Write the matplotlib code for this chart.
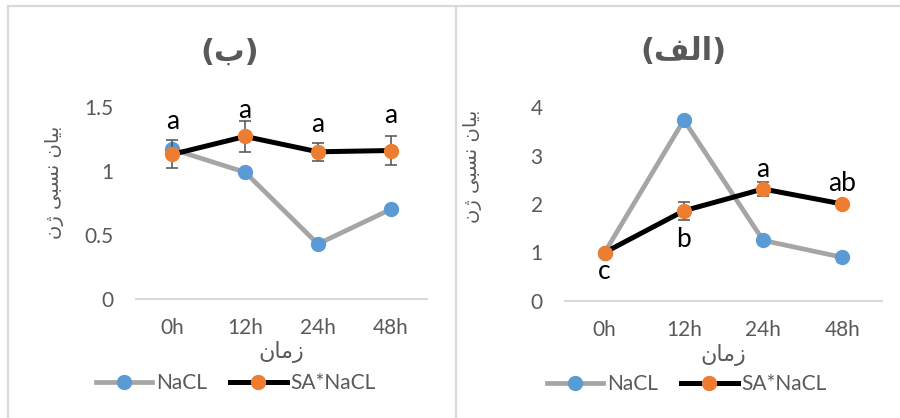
import matplotlib
matplotlib.use("Agg")
import matplotlib.pyplot as plt
from matplotlib.lines import Line2D

# ==========================================
# DATA
# ==========================================
times = ["0h", "12h", "24h", "48h"]

# panel (b) - left
nacl_b = [1.17, 0.99, 0.43, 0.70]
sa_b = [1.13, 1.27, 1.15, 1.16]
sa_b_err = [0.11, 0.12, 0.07, 0.11]
letters_b = ["a", "a", "a", "a"]

# panel (alef) - right
nacl_a = [1.0, 3.73, 1.25, 0.90]
sa_a = [1.0, 1.86, 2.31, 2.0]
sa_a_err = [0.0, 0.19, 0.15, 0.0]
letters_a = ["c", "b", "a", "ab"]

# Persian text, written in shaped presentation forms (visual order)
title_b = "(\uFE8F)"                      # (ب)
title_a = "(\uFED2\uFEDF\uFE8D)"          # (الف)
ylab = "\uFEE5\u0698 \uFEF0\uFE92\uFEB4\uFEE7 \uFEE5\uFE8E\uFEF4\uFE91"  # بیان نسبی ژن
xlab = "\uFEE5\uFE8E\uFEE3\uFEAF"         # زمان

BLUE = "#5B9BD5"
ORANGE = "#ED7D31"
GRAY = "#A5A5A5"
TXT = "#595959"
FRAME = "#D9D9D9"

plt.rcParams["font.family"] = ["Lato", "DejaVu Sans"]

fig = plt.figure(figsize=(9, 4.18), dpi=100)

# outer frame lines of the two excel charts
def fig_line(x0, y0, x1, y1):
    fig.add_artist(Line2D([x0 / 900, x1 / 900], [1 - y0 / 418, 1 - y1 / 418],
                          color=FRAME, lw=1.6, transform=fig.transFigure))

fig_line(8, 6, 900, 6)
fig_line(8, 6, 8, 418)
fig_line(456, 6, 456, 418)


def draw_panel(rect, nacl, sa, sa_err, letters, offsets, ymax, yticks, ytl,
               title, title_x, ylab_x, ylab_y, xlab_y, leg_x, leg_y):
    ax = fig.add_axes(rect)
    x = range(len(times))
    ax.plot(x, nacl, color=GRAY, lw=3.4, marker="o", ms=10,
            mfc=BLUE, mec=BLUE, zorder=3, label="NaCL")
    ax.errorbar(x, sa, yerr=sa_err, fmt="none", ecolor="#505050",
                elinewidth=1.1, capsize=4.3, capthick=1.1, zorder=4)
    ax.plot(x, sa, color="black", lw=3.6, marker="o", ms=10,
            mfc=ORANGE, mec=ORANGE, zorder=5, label="SA*NaCL")
    for i, (lab, off) in enumerate(zip(letters, offsets)):
        ax.annotate(lab, (i, sa[i]), xytext=(0, off), textcoords="offset points",
                    ha="center", va="center", fontsize=19, color="black",
                    annotation_clip=False)
    ax.set_xlim(-0.5, len(times) - 0.5)
    ax.set_ylim(0, ymax)
    ax.set_xticks(list(x))
    ax.set_xticklabels(times, fontsize=15, color=TXT)
    ax.set_yticks(yticks)
    ax.set_yticklabels(ytl, fontsize=15, color=TXT)
    ax.tick_params(axis="x", length=0, pad=14)
    ax.tick_params(axis="y", length=0, pad=16)
    for s in ["top", "right", "left"]:
        ax.spines[s].set_visible(False)
    ax.spines["bottom"].set_color(FRAME)
    ax.spines["bottom"].set_linewidth(1.5)
    ax.patch.set_alpha(0)

    fig.text(title_x / 900, 1 - 52 / 418, title, ha="center", va="center",
             fontsize=22, fontweight="bold", color=TXT, family="DejaVu Sans")
    fig.text(ylab_x / 900, 1 - ylab_y / 418, ylab, ha="center", va="center",
             rotation=90, fontsize=14, color=TXT, family="DejaVu Sans")
    fig.text((rect[0] + rect[2] / 2), 1 - xlab_y / 418, xlab, ha="center",
             va="center", fontsize=16, color=TXT, family="DejaVu Sans")
    ax.legend(loc="center", bbox_to_anchor=(leg_x / 900, 1 - leg_y / 418),
              bbox_transform=fig.transFigure, ncol=2, frameon=False,
              fontsize=15, labelcolor=TXT, handlelength=2.7,
              handletextpad=0.2, columnspacing=1.1, borderpad=0)
    return ax


draw_panel([136 / 900, 1 - 299 / 418, 291 / 900, 192 / 418],
           nacl_b, sa_b, sa_b_err, letters_b, [24, 19, 20, 25],
           1.5, [0, 0.5, 1, 1.5], ["0", "0.5", "1", "1.5"],
           title_b, 230, 55, 182, 352, 236, 383)

draw_panel([565 / 900, 1 - 301 / 418, 317 / 900, 194 / 418],
           nacl_a, sa_a, sa_a_err, letters_a, [-14, -21, 14, 15],
           4, [0, 1, 2, 3, 4], ["0", "1", "2", "3", "4"],
           title_a, 683, 472, 166, 355, 687, 384)

plt.savefig("out.png", dpi=100)
